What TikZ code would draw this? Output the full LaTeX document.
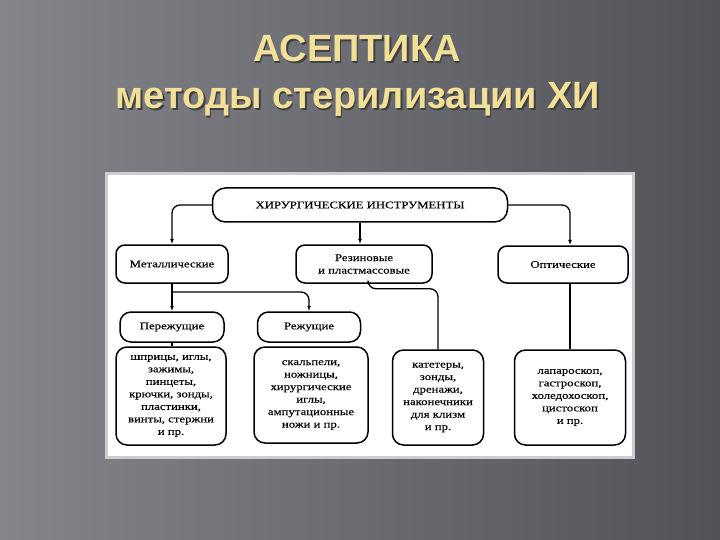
\documentclass[tikz,border=0pt]{standalone}
\usepackage{fontspec}
\setmainfont{Liberation Serif}
\newfontfamily\schemefont[FakeStretch=1.25,FakeBold=0.3]{Liberation Serif}
\newfontfamily\headfont{Liberation Sans}
\usepackage{tikz}
\usetikzlibrary{arrows.meta}
\definecolor{slidebg}{RGB}{82,82,89}
\definecolor{slidelt}{RGB}{132,132,139}
\definecolor{titlec}{RGB}{242,224,152}
\definecolor{framec}{RGB}{205,205,208}

\begin{document}
\begin{tikzpicture}[x=1pt,y=-1pt,>={Latex[length=5.5pt,width=4pt]},
  blk/.style={draw,line width=1.5pt,rounded corners=9pt,align=center,inner sep=1pt,
    font=\schemefont\fontsize{10.2}{12.5}\selectfont},
  wire/.style={line width=1.3pt,rounded corners=8pt},
  ttl/.style={anchor=base,font=\headfont\bfseries\fontsize{38}{44}\selectfont}]
\useasboundingbox (0,0) rectangle (720,540);
\shade[left color=slidelt,right color=slidebg] (0,0) rectangle (720,540);
\fill[framec] (105,172) rectangle (635,459);
\fill[white] (108,175) rectangle (632,456);
% title
\node[ttl,black!75] (ttlsh1) at (358.5,63.5) {АСЕПТИКА};
\node[ttl,titlec]   (ttl1)   at (357,62) {АСЕПТИКА};
\node[ttl,black!75] (ttlsh2) at (359.5,110.5) {методы стерилизации ХИ};
\node[ttl,titlec]   (ttl2)   at (358,109) {методы стерилизации ХИ};
% scheme
\node[blk,minimum width=295,minimum height=34,rounded corners=13pt] (instr) at (360,205) {ХИРУРГИЧЕСКИЕ ИНСТРУМЕНТЫ};
\node[blk,minimum width=112,minimum height=38] (metal) at (172,264) {Металлические};
\node[blk,minimum width=136,minimum height=38] (rubber) at (364,264) {Резиновые\\и пластмассовые};
\node[blk,minimum width=130,minimum height=37] (optic) at (563,264.5) {Оптические};
\node[blk,minimum width=104,minimum height=30,rounded corners=11pt] (clamp) at (172,327) {Пережущие};
\node[blk,minimum width=103,minimum height=30,rounded corners=11pt] (cut) at (309,327) {Режущие};
\node[blk,minimum width=110,minimum height=98,rounded corners=11pt] (bclamp) at (171,396) {шприцы, иглы,\\зажимы,\\пинцеты,\\крючки, зонды,\\пластинки,\\винты, стержни\\и пр.};
\node[blk,minimum width=114,minimum height=96,rounded corners=11pt] (bcut) at (311,395) {скальпели,\\ножницы,\\хирургические\\иглы,\\ампутационные\\ножи и пр.};
\node[blk,minimum width=91,minimum height=95,rounded corners=11pt] (brubber) at (438,397.5) {катетеры,\\зонды,\\дренажи,\\наконечники\\для клизм\\и пр.};
\node[blk,minimum width=111,minimum height=95,rounded corners=11pt] (boptic) at (570,397.5) {лапароскоп,\\гастроскоп,\\холедохоскоп,\\цистоскоп\\и пр.};
% connectors
\draw[wire,->] (instr.west) -| (metal.north);
\draw[wire,->] (instr.south) -- (instr.south |- rubber.north);
\draw[wire,->] (instr.east) -| (boptic.north |- optic.north);
\coordinate (msplit) at (172,292);
\draw[wire,->] (metal.south) -- (clamp.north);
\draw[wire,->] (msplit) -| (cut.north);
\draw[wire] ([xshift=4pt]rubber.south) -- ++(0,5) -| (brubber.north);
\draw[wire] (boptic.north |- optic.south) -- (boptic.north);
\draw[wire] (clamp.south) -- (bclamp.north -| clamp.south);
\end{tikzpicture}
\end{document}
